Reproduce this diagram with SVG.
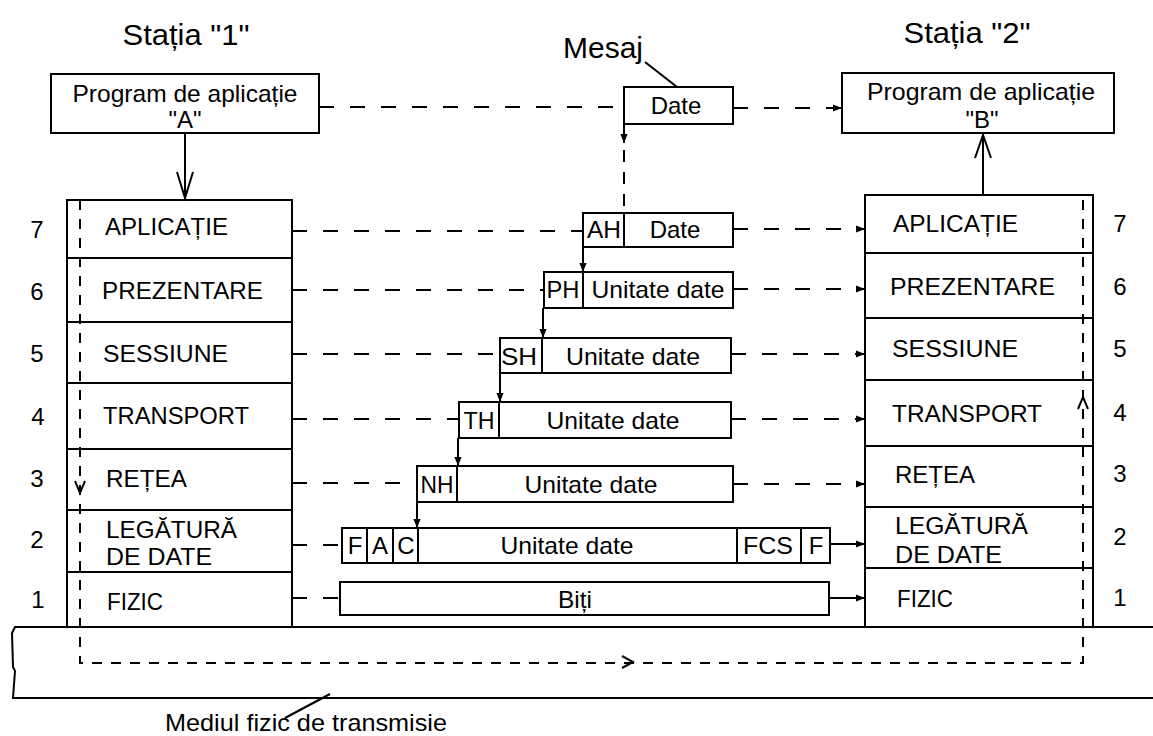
<svg xmlns="http://www.w3.org/2000/svg" width="1153" height="736" viewBox="0 0 1153 736">
<style>
text{font-family:"Liberation Sans",Arial,sans-serif;fill:#000}
.t{font-size:24px}
.big{font-size:30px}
.b{fill:#fff;stroke:#000;stroke-width:2}
.ln{fill:none;stroke:#000;stroke-width:2}
.d{fill:none;stroke:#000;stroke-width:2;stroke-dasharray:15 16}
.dv{fill:none;stroke:#000;stroke-width:2;stroke-dasharray:10 9}
.ov{fill:none;stroke:#000;stroke-width:2}
</style>
<defs>
<marker id="fa" viewBox="0 0 10 10" refX="10" refY="5" markerWidth="11" markerHeight="9" markerUnits="userSpaceOnUse" orient="auto"><path d="M0,1 L10,5 L0,9 z" fill="#000"/></marker>
</defs>
<rect width="1153" height="736" fill="#fff"/>

<g id="title1"><text class="big" x="186" y="45" text-anchor="middle" textLength="127" lengthAdjust="spacingAndGlyphs">Stația "1"</text></g>
<g id="title2"><text class="big" x="967" y="43" text-anchor="middle" textLength="127" lengthAdjust="spacingAndGlyphs">Stația "2"</text></g>

<g id="progA">
<rect class="b" x="51" y="74" width="268" height="59"/>
<text class="t" x="185" y="102" text-anchor="middle" textLength="225" lengthAdjust="spacingAndGlyphs">Program de aplicație</text>
<text class="t" x="185" y="128" text-anchor="middle">"A"</text>
</g>
<g id="progB">
<rect class="b" x="842" y="73" width="272" height="60"/>
<text class="t" x="981" y="100" text-anchor="middle" textLength="228" lengthAdjust="spacingAndGlyphs">Program de aplicație</text>
<text class="t" x="982" y="128" text-anchor="middle">"B"</text>
</g>

<g id="mesaj">
<text class="big" x="563" y="58" textLength="80" lengthAdjust="spacingAndGlyphs">Mesaj</text>
<rect class="b" x="624" y="87" width="109" height="37"/>
<text class="t" x="676" y="114" text-anchor="middle">Date</text>
</g>

<g id="medium">
<path class="ln" d="M1153,627 H15 L12,633 L13,667 L15,671 L13,698 H1153"/>
<text class="t" x="165" y="731" textLength="282" lengthAdjust="spacingAndGlyphs">Mediul fizic de transmisie</text>
</g>

<g id="stack1">
<g id="s1-l7"><rect class="b" x="67" y="200" width="225" height="58"/><text class="t" x="105" y="235" textLength="123" lengthAdjust="spacingAndGlyphs">APLICAȚIE</text><text class="t" x="37" y="238" text-anchor="middle">7</text></g>
<g id="s1-l6"><rect class="b" x="67" y="258" width="225" height="64"/><text class="t" x="102" y="299" textLength="161" lengthAdjust="spacingAndGlyphs">PREZENTARE</text><text class="t" x="37" y="300" text-anchor="middle">6</text></g>
<g id="s1-l5"><rect class="b" x="67" y="322" width="225" height="61"/><text class="t" x="103" y="362" textLength="125" lengthAdjust="spacingAndGlyphs">SESSIUNE</text><text class="t" x="37" y="362" text-anchor="middle">5</text></g>
<g id="s1-l4"><rect class="b" x="67" y="383" width="225" height="66"/><text class="t" x="103" y="424" textLength="146" lengthAdjust="spacingAndGlyphs">TRANSPORT</text><text class="t" x="38" y="425" text-anchor="middle">4</text></g>
<g id="s1-l3"><rect class="b" x="67" y="449" width="225" height="61"/><text class="t" x="106" y="487" textLength="81" lengthAdjust="spacingAndGlyphs">REȚEA</text><text class="t" x="37" y="487" text-anchor="middle">3</text></g>
<g id="s1-l2"><rect class="b" x="67" y="510" width="225" height="62"/><text class="t" x="106" y="538" textLength="131" lengthAdjust="spacingAndGlyphs">LEGĂTURĂ</text><text class="t" x="106" y="565" textLength="106" lengthAdjust="spacingAndGlyphs">DE DATE</text><text class="t" x="37" y="548" text-anchor="middle">2</text></g>
<g id="s1-l1"><rect class="b" x="67" y="572" width="225" height="55"/><text class="t" x="107" y="610" textLength="56" lengthAdjust="spacingAndGlyphs">FIZIC</text><text class="t" x="38" y="608" text-anchor="middle">1</text></g>
</g>

<g id="stack2">
<g id="s2-l7"><rect class="b" x="865" y="195" width="228" height="58"/><text class="t" x="893" y="232" textLength="125" lengthAdjust="spacingAndGlyphs">APLICAȚIE</text><text class="t" x="1120" y="232" text-anchor="middle">7</text></g>
<g id="s2-l6"><rect class="b" x="865" y="253" width="228" height="65"/><text class="t" x="890" y="295" textLength="165" lengthAdjust="spacingAndGlyphs">PREZENTARE</text><text class="t" x="1120" y="295" text-anchor="middle">6</text></g>
<g id="s2-l5"><rect class="b" x="865" y="318" width="228" height="62"/><text class="t" x="892" y="357" textLength="126" lengthAdjust="spacingAndGlyphs">SESSIUNE</text><text class="t" x="1120" y="357" text-anchor="middle">5</text></g>
<g id="s2-l4"><rect class="b" x="865" y="380" width="228" height="66"/><text class="t" x="892" y="422" textLength="150" lengthAdjust="spacingAndGlyphs">TRANSPORT</text><text class="t" x="1120" y="421" text-anchor="middle">4</text></g>
<g id="s2-l3"><rect class="b" x="865" y="446" width="228" height="61"/><text class="t" x="895" y="483" textLength="80" lengthAdjust="spacingAndGlyphs">REȚEA</text><text class="t" x="1120" y="482" text-anchor="middle">3</text></g>
<g id="s2-l2"><rect class="b" x="865" y="507" width="228" height="61"/><text class="t" x="895" y="534" textLength="133" lengthAdjust="spacingAndGlyphs">LEGĂTURĂ</text><text class="t" x="895" y="563" textLength="107" lengthAdjust="spacingAndGlyphs">DE DATE</text><text class="t" x="1120" y="545" text-anchor="middle">2</text></g>
<g id="s2-l1"><rect class="b" x="865" y="568" width="228" height="59"/><text class="t" x="897" y="607" textLength="56" lengthAdjust="spacingAndGlyphs">FIZIC</text><text class="t" x="1120" y="606" text-anchor="middle">1</text></g>
</g>

<g id="pkt7">
<rect class="b" x="583" y="213" width="150" height="34"/><line class="ln" x1="624" y1="213" x2="624" y2="247"/>
<text class="t" x="604" y="238" text-anchor="middle" textLength="34" lengthAdjust="spacingAndGlyphs">AH</text>
<text class="t" x="675" y="238" text-anchor="middle">Date</text>
</g>
<g id="pkt6">
<rect class="b" x="544" y="272" width="189" height="36"/><line class="ln" x1="583" y1="272" x2="583" y2="308"/>
<text class="t" x="563" y="298" text-anchor="middle" textLength="33" lengthAdjust="spacingAndGlyphs">PH</text>
<text class="t" x="658" y="298" text-anchor="middle" textLength="133" lengthAdjust="spacingAndGlyphs">Unitate date</text>
</g>
<g id="pkt5">
<rect class="b" x="500" y="338" width="231" height="35"/><line class="ln" x1="542" y1="338" x2="542" y2="373"/>
<text class="t" x="519" y="365" text-anchor="middle" textLength="36" lengthAdjust="spacingAndGlyphs">SH</text>
<text class="t" x="633" y="365" text-anchor="middle" textLength="134" lengthAdjust="spacingAndGlyphs">Unitate date</text>
</g>
<g id="pkt4">
<rect class="b" x="459" y="402" width="272" height="36"/><line class="ln" x1="499" y1="402" x2="499" y2="438"/>
<text class="t" x="479" y="429" text-anchor="middle" textLength="31" lengthAdjust="spacingAndGlyphs">TH</text>
<text class="t" x="613" y="429" text-anchor="middle" textLength="133" lengthAdjust="spacingAndGlyphs">Unitate date</text>
</g>
<g id="pkt3">
<rect class="b" x="417" y="466" width="316" height="36"/><line class="ln" x1="457" y1="466" x2="457" y2="502"/>
<text class="t" x="437" y="493" text-anchor="middle" textLength="33" lengthAdjust="spacingAndGlyphs">NH</text>
<text class="t" x="591" y="493" text-anchor="middle" textLength="133" lengthAdjust="spacingAndGlyphs">Unitate date</text>
</g>
<g id="pkt2">
<rect class="b" x="342" y="528" width="488" height="35"/>
<line class="ln" x1="367" y1="528" x2="367" y2="563"/>
<line class="ln" x1="393" y1="528" x2="393" y2="563"/>
<line class="ln" x1="418" y1="528" x2="418" y2="563"/>
<line class="ln" x1="737" y1="528" x2="737" y2="563"/>
<line class="ln" x1="801" y1="528" x2="801" y2="563"/>
<text class="t" x="355" y="554" text-anchor="middle">F</text>
<text class="t" x="380" y="554" text-anchor="middle">A</text>
<text class="t" x="406" y="554" text-anchor="middle">C</text>
<text class="t" x="567" y="554" text-anchor="middle" textLength="133" lengthAdjust="spacingAndGlyphs">Unitate date</text>
<text class="t" x="768" y="554" text-anchor="middle" textLength="50" lengthAdjust="spacingAndGlyphs">FCS</text>
<text class="t" x="816" y="554" text-anchor="middle">F</text>
</g>
<g id="pkt1">
<rect class="b" x="340" y="582" width="489" height="33"/>
<text class="t" x="575" y="608" text-anchor="middle" textLength="34" lengthAdjust="spacingAndGlyphs">Biți</text>
</g>

<g id="connectors">
<!-- app to app -->
<line class="ln" x1="185" y1="133" x2="185" y2="199"/>
<path class="ov" d="M177,172 L185,198 L193,172"/>
<line class="ln" x1="983" y1="195" x2="983" y2="134"/>
<path class="ov" d="M975,158 L983,135 L991,158"/>
<line class="d" x1="319" y1="107" x2="624" y2="107"/>
<line class="d" x1="733" y1="108" x2="842" y2="108" marker-end="url(#fa)"/>
<line class="ln" x1="645" y1="62" x2="677" y2="87"/>
<!-- encapsulation chain -->
<line class="ln" x1="624" y1="124" x2="624" y2="143" marker-end="url(#fa)"/>
<line class="ln" x1="624" y1="150" x2="624" y2="213" stroke-dasharray="12 10"/>
<line class="ln" x1="583" y1="247" x2="583" y2="272" marker-end="url(#fa)"/>
<line class="ln" x1="543" y1="308" x2="543" y2="338" marker-end="url(#fa)"/>
<line class="ln" x1="500" y1="373" x2="500" y2="402" marker-end="url(#fa)"/>
<line class="ln" x1="458" y1="438" x2="458" y2="466" marker-end="url(#fa)"/>
<line class="ln" x1="417" y1="502" x2="417" y2="528" marker-end="url(#fa)"/>
<!-- peer layer links -->
<line class="d" x1="292" y1="231" x2="583" y2="231"/>
<line class="d" x1="733" y1="229" x2="865" y2="229" marker-end="url(#fa)"/>
<line class="d" x1="292" y1="290" x2="544" y2="290"/>
<line class="d" x1="733" y1="289" x2="865" y2="289" marker-end="url(#fa)"/>
<line class="d" x1="292" y1="354" x2="500" y2="354"/>
<line class="d" x1="731" y1="354" x2="865" y2="354" marker-end="url(#fa)"/>
<line class="d" x1="292" y1="419" x2="459" y2="419"/>
<line class="d" x1="731" y1="419" x2="865" y2="419" marker-end="url(#fa)"/>
<line class="d" x1="292" y1="483" x2="417" y2="483"/>
<line class="d" x1="733" y1="484" x2="865" y2="484" marker-end="url(#fa)"/>
<line class="d" x1="292" y1="545" x2="342" y2="545"/>
<line class="ln" x1="830" y1="544" x2="865" y2="544" marker-end="url(#fa)"/>
<line class="d" x1="292" y1="598" x2="340" y2="598"/>
<line class="ln" x1="829" y1="598" x2="865" y2="598" marker-end="url(#fa)"/>
<!-- physical path -->
<path class="dv" d="M80,200 V663 H1083 V195"/>
<path class="ov" d="M75,481 L80,493 L85,481"/>
<path class="ov" d="M1078,409 L1083,397 L1088,409"/>
<path class="ov" d="M622,656 L633,662 L622,668"/>
<line class="ln" x1="285" y1="718" x2="330" y2="694"/>
</g>
</svg>
